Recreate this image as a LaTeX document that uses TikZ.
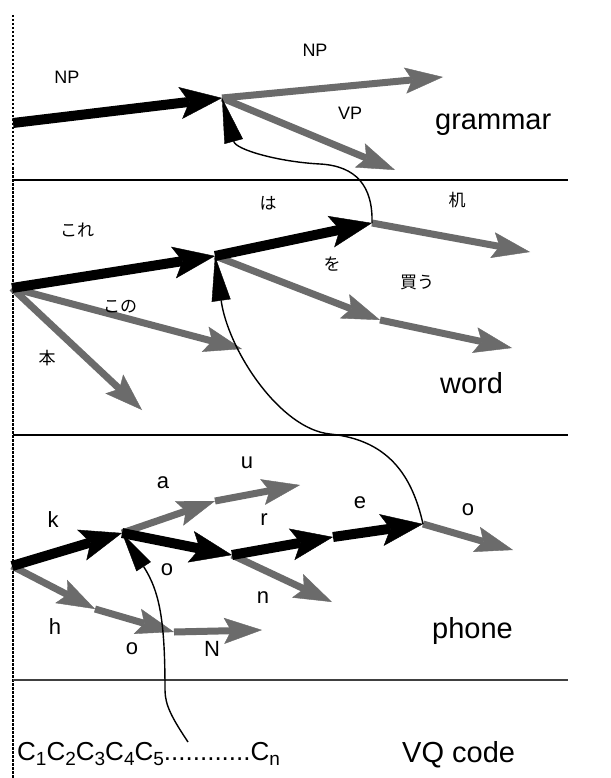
\documentclass[tikz,border=0pt]{standalone}
\usepackage{fontspec}
\setmainfont{Liberation Sans}
\newfontfamily\jpfont{Noto Sans CJK JP}
\usetikzlibrary{arrows.meta}
\definecolor{graycol}{gray}{0.42}
\newcommand{\vqsub}[1]{\raisebox{-5pt}{\fontsize{19}{20}\selectfont #1}}
\tikzset{
  blk/.style={line width=10pt, draw=black, -{Stealth[length=42pt,width=32pt,inset=9pt,line width=0.4pt]}},
  gry/.style={line width=7pt, draw=graycol, -{Stealth[length=38pt,width=26pt,inset=7pt,line width=0.4pt]}},
  crv/.style={line width=1.4pt, draw=black, -{Triangle[length=45pt,width=19pt,line width=0.4pt]}},
  crvs/.style={line width=1.4pt, draw=black, -{Triangle[length=40pt,width=17pt,line width=0.4pt]}},
  layer/.style={line width=1.5pt, draw=black},
  lbl/.style={font=\fontsize{29}{34}\selectfont, inner sep=0pt, anchor=base west},
  sml/.style={font=\fontsize{18}{22}\selectfont, inner sep=0pt},
  phl/.style={font=\fontsize{22}{26}\selectfont, inner sep=0pt},
  jpl/.style={font=\jpfont\fontsize{17}{20}\selectfont, inner sep=0pt},
}
\begin{document}
\begin{tikzpicture}[x=1pt,y=-1pt]
\useasboundingbox (0,0) rectangle (610,778);
\fill[white] (0,0) rectangle (610,778);

% dotted left margin and layer separators
\draw[line width=2.6pt, dash pattern=on 2.5pt off 1.5pt] (13,15) -- (13,778);
\draw[layer] (13,180) -- (568,180);
\draw[layer] (13,435) -- (568,435);
\draw[line width=1.1pt, draw=black!75] (13,680) -- (568,680);

% ---------- coordinates ----------
\coordinate (G0) at (13,123);
\coordinate (G1) at (222,98);
\coordinate (Gnp) at (443,77);
\coordinate (Gvp) at (395,170);

\coordinate (W0) at (12,288);
\coordinate (W1) at (215,256);
\coordinate (W2) at (372,223);
\coordinate (W3) at (530,252);
\coordinate (W4) at (380,320);
\coordinate (W5) at (512,348);
\coordinate (W6) at (242,349);
\coordinate (W7) at (142,410);

\coordinate (P0) at (12,566);
\coordinate (P1) at (122,533);
\coordinate (P2) at (232,555);
\coordinate (P3) at (333,537);
\coordinate (P4) at (423,524);
\coordinate (Pa) at (215,501);
\coordinate (Pu) at (300,485);
\coordinate (Pn) at (332,602);
\coordinate (Po2) at (513,550);
\coordinate (Ph) at (95,609);
\coordinate (Po) at (174,632);
\coordinate (PN) at (262,630);
\coordinate (V) at (188,742);

% ---------- grammar ----------
\draw[gry] (G1) -- (Gnp);
\draw[gry] (G1) -- (Gvp);
\draw[blk] (G0) -- (G1);

% ---------- word ----------
\draw[gry] (W0) -- (W7);
\draw[gry] (W0) -- (W6);
\draw[gry] (W1) -- (W4);
\draw[gry] (W4) -- (W5);
\draw[gry] (W2) -- (W3);
\draw[blk] (W0) -- (W1);
\draw[blk] (W1) -- (W2);

% ---------- phone ----------
\draw[gry] (P0) -- (Ph);
\draw[gry] (Ph) -- (Po);
\draw[gry] (Po) -- (PN);
\draw[gry] (P1) -- (Pa);
\draw[gry] (Pa) -- (Pu);
\draw[gry] (P2) -- (Pn);
\draw[gry] (P4) -- (Po2);
\draw[blk] (P0) -- (P1);
\draw[blk] (P1) -- (P2);
\draw[blk] (P2) -- (P3);
\draw[blk] (P3) -- (P4);

% ---------- curved links ----------
\draw[crv] (W2) .. controls (373,186) and (356,166) .. (320,164)
                .. controls (280,162) and (236,150) .. (G1);
\draw[crv] (P4) .. controls (412,475) and (388,440) .. (330,434)
                .. controls (280,429) and (228,350) .. (W1);
\draw[crvs] (V) .. controls (172,718) and (165,705) .. (165,690)
                .. controls (165,622) and (160,592) .. (P1);

% ---------- labels ----------
\node[sml] (lnp1) at (67,77) {NP};
\node[sml] (lnp2) at (315,50) {NP};
\node[sml] (lvp) at (350,113) {VP};
\node[lbl] (lgram) at (435,130) {grammar};

\node[jpl] (lkore) at (77,230) {これ};
\node[jpl] (lha) at (268,203) {は};
\node[jpl] (lkono) at (120,307) {この};
\node[jpl] (lhon) at (47,358) {本};
\node[jpl] (ltsukue) at (457,200) {机};
\node[jpl] (lwo) at (332,264) {を};
\node[jpl] (lkau) at (417,282) {買う};
\node[lbl] (lword) at (440,393) {word};

\node[phl] (lk) at (53,520) {k};
\node[phl] (la) at (163,483) {a};
\node[phl] (lu) at (247,463) {u};
\node[phl] (lr) at (264,520) {r};
\node[phl] (lo1) at (167,570) {o};
\node[phl] (ln) at (263,598) {n};
\node[phl] (lh) at (55,627) {h};
\node[phl] (lo2) at (132,649) {o};
\node[phl] (lN) at (212,649) {N};
\node[phl] (le) at (360,503) {e};
\node[phl] (lo3) at (468,510) {o};
\node[lbl] (lphone) at (432,638) {phone};

\node[lbl, font=\fontsize{26}{30}\selectfont] (lvq) at (17,760)
  {C\vqsub{1}C\vqsub{2}C\vqsub{3}C\vqsub{4}C\vqsub{5}............C\vqsub{n}};
\node[lbl] (lvqcode) at (402,762) {VQ code};
\end{tikzpicture}
\end{document}
